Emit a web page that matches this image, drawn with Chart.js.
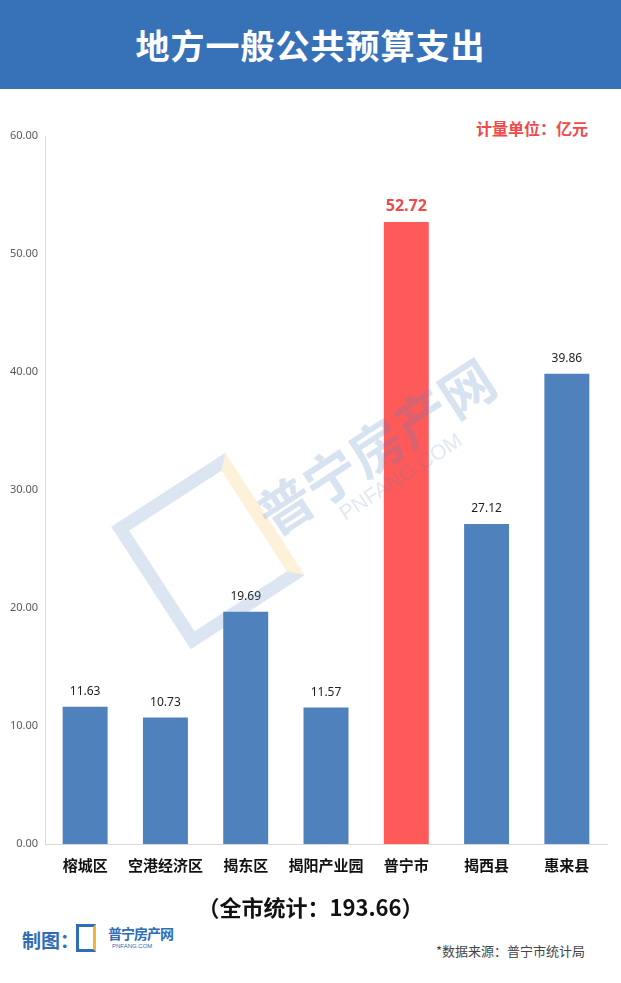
<!DOCTYPE html>
<html>
<head>
<meta charset="utf-8">
<script src="https://cdn.jsdelivr.net/npm/chart.js@4/dist/chart.umd.min.js"></script>
<style>
  html, body { margin: 0; padding: 0; background: #fff; }
  body { width: 621px; height: 983px; position: relative; overflow: hidden;
         font-family: "Noto Sans CJK SC", "Noto Sans", sans-serif; }
  .header { position: absolute; left: 0; top: 0; width: 621px; height: 89px; background: #3771b8;
            color: #fff; font-size: 34px; font-weight: bold; text-align: center; line-height: 89px; letter-spacing: 1px; }
  .unit { position: absolute; right: 33px; top: 116px; color: #f04a4a; font-size: 16px; font-weight: bold; }
  #wrap { position: absolute; left: 0; top: 100px; width: 621px; height: 800px; }
  .total { position: absolute; left: 0; width: 621px; top: 890px; text-align: center; font-size: 22px; font-weight: bold; color: #111; }
  .maker { position: absolute; left: 22px; top: 926px; color: #2f6db5; font-size: 19px; font-weight: bold; }
  .logo { position: absolute; left: 76px; top: 924px; width: 20px; height: 28px; border: 3px solid #2f6db5; border-right-color: #f5b335; box-sizing: border-box; }
  .logo-t { position: absolute; left: 108px; top: 923px; color: #2f6db5; font-size: 14px; font-weight: bold; letter-spacing: -1px; }
  .logo-s { position: absolute; left: 112px; top: 943px; color: #2f6db5; font-size: 6px; font-family: "Liberation Sans", sans-serif; }
  .source { position: absolute; right: 36px; top: 941px; color: #444; font-size: 13px; }
  .wm { position: absolute; left: 240px; top: 485px; transform: rotate(-33deg); transform-origin: left top;
        color: rgba(79,129,189,0.22); font-size: 54px; font-weight: bold; pointer-events: none; white-space: nowrap; }
  .wm2 { position: absolute; left: 335px; top: 505px; transform: rotate(-33deg); transform-origin: left top;
         color: rgba(79,129,189,0.18); font-size: 21px; font-family: "Liberation Sans", sans-serif; pointer-events: none; }
  .wmbox { position: absolute; left: 140px; top: 478px; width: 110px; height: 120px; transform: rotate(-33deg);
           border: 13px solid rgba(79,129,189,0.2); border-right-color: rgba(245,179,53,0.18); pointer-events: none; }
</style>
</head>
<body>
<div class="header">地方一般公共预算支出</div>
<div class="unit">计量单位：亿元</div>
<div id="wrap"><canvas id="chart"></canvas></div>
<div class="wmbox"></div>
<div class="wm">普宁房产网</div>
<div class="wm2">PNFANG.COM</div>
<div class="total">（全市统计：193.66）</div>
<div class="maker">制图：</div>
<div class="logo"></div>
<div class="logo-t">普宁房产网</div>
<div class="logo-s">PNFANG.COM</div>
<div class="source">*数据来源：普宁市统计局</div>

<script>
const categories = ["榕城区", "空港经济区", "揭东区", "揭阳产业园", "普宁市", "揭西县", "惠来县"]
const spending = [11.63, 10.73, 19.69, 11.57, 52.72, 27.12, 39.86]
const yTicks = [0, 10, 20, 30, 40, 50, 60]

const highlight = "普宁市"
const barColors = categories.map(c => c === highlight ? "#ff5a5a" : "#4f81bd")

// value labels above each bar
const valueLabels = {
    id: "valueLabels",
    afterDatasetsDraw(chart) {
        const ctx = chart.ctx
        const meta = chart.getDatasetMeta(0)
        ctx.save()
        ctx.textAlign = "center"
        ctx.textBaseline = "middle"
        meta.data.forEach((bar, i) => {
            const big = categories[i] === highlight
            ctx.font = big ? "bold 16px 'Noto Sans', sans-serif" : "12px 'Noto Sans', sans-serif"
            ctx.fillStyle = big ? "#f04a4a" : "#222"
            ctx.fillText(spending[i].toFixed(2), bar.x, bar.y - 15)
        })
        ctx.restore()
    }
}

new Chart(document.getElementById("chart"), {
    type: "bar",
    data: {
        labels: categories,
        datasets: [{
            data: spending,
            backgroundColor: barColors,
            barPercentage: 0.56,
            categoryPercentage: 1
        }]
    },
    options: {
        responsive: true,
        maintainAspectRatio: false,
        animation: false,
        layout: { padding: { top: 36, right: 14, left: 0, bottom: 0 } },
        plugins: {
            legend: { display: false },
            tooltip: { enabled: false }
        },
        scales: {
            x: {
                grid: { display: false, drawTicks: false },
                border: { display: true, color: "#d9d9d9", width: 1 },
                ticks: {
                    color: "#111",
                    padding: 12,
                    maxRotation: 0,
                    autoSkip: false,
                    font: { size: 15, weight: "bold", family: "'Noto Sans CJK SC', sans-serif" }
                },
                afterFit(scale) { scale.height = 56 }
            },
            y: {
                min: 0,
                max: 60,
                afterBuildTicks(scale) { scale.ticks = yTicks.map(v => ({ value: v })) },
                grid: { display: false, drawTicks: false },
                border: { display: true, color: "#d9d9d9", width: 1 },
                ticks: {
                    color: "#595959",
                    padding: 7,
                    font: { size: 11, family: "'Noto Sans', sans-serif" },
                    callback: v => Number(v).toFixed(2)
                },
                afterFit(scale) { scale.width = 45 }
            }
        }
    },
    plugins: [valueLabels]
})
</script>
</body>
</html>
